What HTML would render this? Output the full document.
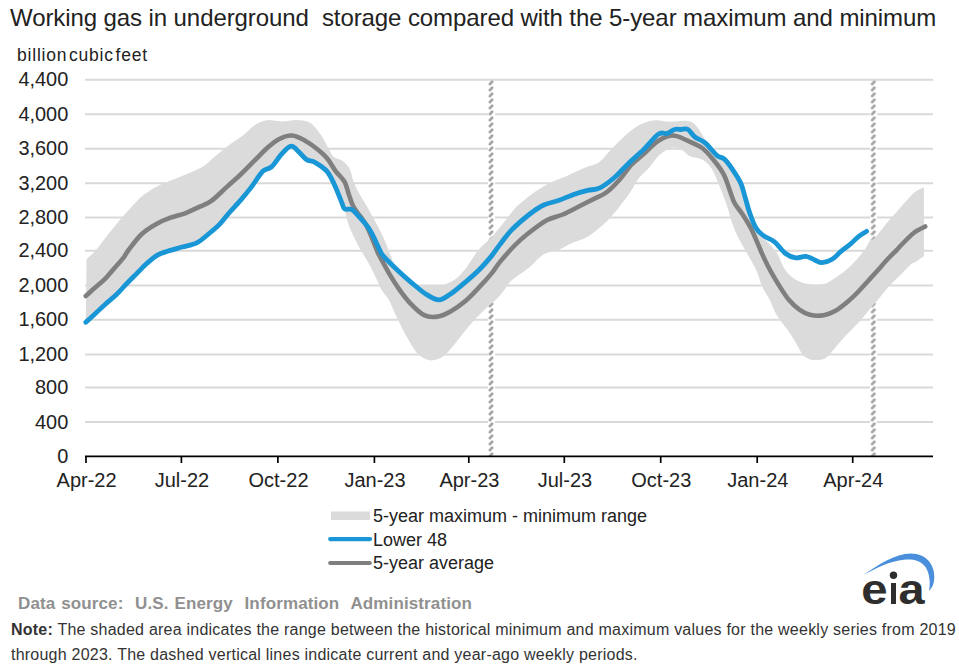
<!DOCTYPE html>
<html><head><meta charset="utf-8">
<style>
html,body{margin:0;padding:0;background:#fff;width:959px;height:668px;overflow:hidden}
svg{display:block;position:absolute;left:0;top:0}
text{font-family:"Liberation Sans",sans-serif}
</style></head><body>
<svg width="959" height="668" viewBox="0 0 959 668">
<defs>
<pattern id="dash" x="0" y="0" width="8" height="6" patternUnits="userSpaceOnUse">
<line x1="2.9" y1="4.1" x2="5.1" y2="1.7" stroke="#a6a6a6" stroke-width="2.8" stroke-linecap="round"/>
</pattern>
</defs>
<text x="10" y="26.3" font-size="24" fill="#222" letter-spacing="-0.09" xml:space="preserve">Working gas in underground  storage compared with the 5-year maximum and minimum</text>
<text y="61" font-size="17.5" fill="#222" letter-spacing="0.8"><tspan x="17">billion</tspan><tspan x="69">cubic</tspan><tspan x="115.5">feet</tspan></text>
<g stroke="#d9d9d9" stroke-width="2">
<line x1="85" y1="422" x2="933" y2="422"/>
<line x1="85" y1="387.4" x2="933" y2="387.4"/>
<line x1="85" y1="354.55" x2="933" y2="354.55"/>
<line x1="85" y1="319.7" x2="933" y2="319.7"/>
<line x1="85" y1="285.45" x2="933" y2="285.45"/>
<line x1="85" y1="250.8" x2="933" y2="250.8"/>
<line x1="85" y1="217.6" x2="933" y2="217.6"/>
<line x1="85" y1="183.3" x2="933" y2="183.3"/>
<line x1="85" y1="148.8" x2="933" y2="148.8"/>
<line x1="85" y1="114.2" x2="933" y2="114.2"/>
<line x1="85" y1="79.7" x2="933" y2="79.7"/>
</g>
<rect x="488" y="81" width="7" height="375" fill="#fff"/><rect x="870" y="81" width="7" height="375" fill="#fff"/>
<g transform="translate(487,80)"><rect x="0" y="0" width="8" height="376" fill="url(#dash)"/></g>
<g transform="translate(869.3,80)"><rect x="0" y="0" width="8" height="376" fill="url(#dash)"/></g>
<path d="M86.6,259.0 C88.2,257.5 92.3,254.2 96.1,249.9 C99.9,245.6 104.6,238.7 109.2,233.0 C113.8,227.3 118.9,221.1 123.8,215.5 C128.7,209.9 134.3,203.4 138.4,199.4 C142.5,195.4 144.7,194.0 148.6,191.4 C152.5,188.8 157.4,186.2 161.8,184.1 C166.2,182.0 170.3,180.8 174.9,179.0 C179.5,177.2 184.6,175.3 189.5,173.1 C194.4,170.9 199.9,168.5 204.1,165.8 C208.3,163.1 210.4,160.2 214.6,156.7 C218.8,153.2 224.3,148.7 229.2,145.0 C234.1,141.3 239.4,138.2 243.8,134.8 C248.2,131.4 251.6,127.0 255.5,124.6 C259.4,122.2 262.8,120.7 267.2,120.2 C271.6,119.7 276.9,121.5 281.8,121.4 C286.7,121.4 292.0,119.9 296.4,119.9 C300.8,120.0 304.9,120.4 308.0,121.7 C311.1,123.0 312.9,124.8 315.3,127.5 C317.7,130.2 320.2,133.8 322.6,137.7 C325.0,141.6 328.0,147.7 329.9,150.9 C331.8,154.1 332.0,155.4 334.0,157.0 C336.0,158.6 339.4,158.6 342.0,160.5 C344.6,162.4 347.7,165.3 349.6,168.7 C351.5,172.1 351.8,176.8 353.4,181.0 C355.0,185.2 356.8,189.1 359.2,193.6 C361.6,198.1 365.1,203.1 368.0,208.2 C370.9,213.3 374.0,219.1 376.7,224.2 C379.4,229.3 382.1,234.5 384.0,238.8 C385.9,243.1 387.2,247.0 388.4,249.9 C389.6,252.8 389.6,253.4 391.0,256.5 C392.4,259.6 393.1,264.1 396.5,268.2 C399.9,272.3 407.2,278.3 411.1,281.3 C415.0,284.3 416.4,285.3 420.0,286.0 C423.6,286.7 429.2,285.4 432.8,285.3 C436.4,285.2 438.1,286.3 441.8,285.3 C445.5,284.3 451.0,282.1 454.9,279.4 C458.8,276.7 461.2,274.1 465.1,269.2 C469.0,264.3 474.3,255.1 478.5,250.0 C482.7,244.9 486.5,242.5 490.2,238.5 C493.9,234.5 497.9,229.5 500.9,225.9 C503.9,222.3 505.7,220.0 508.1,217.0 C510.5,214.0 512.8,210.7 515.3,208.0 C517.8,205.3 520.6,203.1 523.4,200.8 C526.2,198.5 527.9,196.8 532.0,194.0 C536.1,191.2 542.6,186.7 548.2,183.8 C553.8,180.9 559.6,179.2 565.7,176.5 C571.8,173.8 579.1,170.1 584.7,167.7 C590.3,165.3 594.8,165.1 599.3,161.9 C603.8,158.7 607.0,153.5 612.0,148.5 C617.0,143.5 623.9,136.1 629.2,131.9 C634.5,127.7 639.4,125.0 643.8,123.1 C648.2,121.1 651.1,120.4 655.5,120.2 C659.9,120.0 664.8,121.6 670.1,121.7 C675.5,121.8 683.2,120.3 687.6,121.0 C692.0,121.7 693.5,123.0 696.4,126.0 C699.3,129.0 701.7,134.5 705.1,139.2 C708.5,143.9 713.6,151.2 716.8,154.3 C720.0,157.4 721.5,155.7 724.1,157.9 C726.7,160.2 729.3,163.7 732.1,167.8 C734.9,171.9 738.7,177.5 740.9,182.4 C743.1,187.3 743.8,192.1 745.3,197.0 C746.8,201.9 747.9,206.7 749.6,211.6 C751.3,216.5 753.4,222.3 755.5,226.2 C757.6,230.1 760.2,232.5 762.0,235.0 C763.8,237.5 764.0,238.2 766.5,241.1 C769.0,244.0 773.5,247.8 776.7,252.7 C779.9,257.6 782.3,265.8 785.5,270.3 C788.7,274.8 791.8,277.4 795.7,279.7 C799.6,282.0 804.2,283.4 808.8,284.1 C813.4,284.8 819.5,284.8 823.4,284.1 C827.3,283.4 828.8,281.8 832.2,279.7 C835.6,277.6 840.0,274.8 843.9,271.7 C847.8,268.6 852.1,264.4 855.5,260.8 C858.9,257.2 861.9,253.6 864.3,250.3 C866.7,247.0 868.2,243.2 870.0,241.1 C871.8,238.9 872.2,240.5 875.1,237.4 C878.0,234.3 883.5,226.9 887.3,222.4 C891.1,217.9 894.5,214.3 898.1,210.2 C901.7,206.1 906.0,201.2 909.0,198.0 C912.0,194.8 913.3,193.1 915.8,191.3 C918.3,189.5 922.5,187.9 923.9,187.2 L923.9,256.3 C922.5,257.2 918.1,260.4 915.8,261.8 C913.5,263.2 913.0,262.6 910.3,264.9 C907.6,267.2 903.2,272.0 899.5,275.8 C895.8,279.6 891.5,283.7 888.0,287.6 C884.5,291.5 881.7,295.4 878.6,299.0 C875.5,302.6 872.8,305.6 869.5,309.4 C866.2,313.2 863.1,317.4 859.0,322.0 C854.9,326.6 848.8,332.3 844.7,336.7 C840.6,341.1 837.7,344.9 834.5,348.4 C831.3,351.9 828.9,355.9 825.7,357.9 C822.5,359.8 818.5,360.0 815.5,360.1 C812.5,360.2 810.2,359.5 808.0,358.5 C805.8,357.5 804.2,356.6 802.3,354.2 C800.4,351.8 798.7,347.6 796.5,344.0 C794.3,340.4 792.5,337.0 789.2,332.3 C786.0,327.6 780.2,320.9 777.0,315.6 C773.8,310.3 772.5,305.4 770.0,300.5 C767.5,295.6 764.4,291.3 762.1,286.3 C759.8,281.3 759.0,276.1 756.3,270.3 C753.6,264.5 749.1,257.1 746.0,251.5 C742.9,245.9 740.1,241.6 737.8,236.8 C735.5,232.0 734.0,228.3 732.1,222.8 C730.2,217.3 728.5,210.1 726.3,203.8 C724.1,197.5 721.4,190.6 719.0,184.8 C716.6,179.0 714.5,173.0 711.7,168.8 C708.9,164.6 705.7,161.7 702.2,159.6 C698.7,157.5 693.2,157.6 690.5,156.5 C687.8,155.4 687.6,154.3 685.7,153.0 C683.9,151.7 681.5,149.4 679.4,148.5 C677.3,147.6 675.4,147.3 673.1,147.6 C670.9,147.9 668.6,148.7 665.9,150.3 C663.2,152.0 660.0,154.4 657.0,157.5 C654.0,160.6 651.0,165.7 648.0,169.1 C645.0,172.5 642.0,174.2 639.0,178.1 C636.0,182.0 633.8,187.0 630.0,192.5 C626.2,198.0 620.3,205.8 616.0,211.0 C611.7,216.2 608.7,219.7 604.0,224.0 C599.3,228.3 592.8,233.6 587.6,236.7 C582.4,239.8 577.9,240.4 573.0,242.6 C568.1,244.8 563.3,248.0 558.4,249.9 C553.5,251.8 548.7,251.3 543.8,254.2 C538.9,257.1 534.5,263.1 529.2,267.4 C523.9,271.7 516.1,276.2 512.0,280.0 C507.9,283.8 506.8,286.9 504.3,290.0 C501.8,293.1 500.2,295.6 497.0,298.8 C493.8,302.0 488.9,305.6 485.3,309.0 C481.7,312.4 478.5,315.6 475.1,319.2 C471.7,322.8 468.3,326.8 464.9,330.9 C461.5,335.0 457.9,340.1 454.7,344.0 C451.5,347.9 448.8,351.6 445.9,354.2 C443.0,356.8 440.1,358.3 437.2,359.3 C434.3,360.3 431.6,361.0 428.4,360.1 C425.2,359.2 421.1,356.9 418.2,354.2 C415.3,351.5 413.3,347.9 410.9,344.0 C408.5,340.1 406.0,335.5 403.6,330.9 C401.2,326.3 398.7,321.4 396.3,316.3 C393.9,311.2 391.4,304.6 389.0,300.2 C386.6,295.8 383.6,293.2 381.7,290.0 C379.8,286.8 379.6,285.3 377.5,280.9 C375.4,276.5 371.7,268.7 368.8,263.4 C365.9,258.1 362.6,253.4 360.3,249.3 C358.0,245.2 356.7,242.7 354.8,238.8 C352.9,234.9 350.4,229.6 349.0,225.7 C347.6,221.8 346.6,217.2 346.1,215.5 L344.6,208.9 C344.1,207.8 343.4,206.4 341.7,202.3 C340.0,198.2 336.8,189.7 334.3,184.5 C331.9,179.3 330.2,175.0 327.0,171.3 C323.8,167.7 318.7,164.6 315.3,162.6 C311.9,160.6 309.3,161.3 306.6,159.6 C303.9,157.9 301.9,154.5 299.3,152.3 C296.7,150.1 294.1,145.9 291.2,146.2 C288.3,146.4 285.1,150.4 281.8,153.8 C278.5,157.2 274.7,164.0 271.5,166.9 C268.3,169.8 266.2,167.9 262.8,171.3 C259.4,174.7 254.8,182.6 251.1,187.4 C247.4,192.2 244.6,195.6 240.9,199.9 C237.2,204.2 232.5,209.0 229.0,213.0 C225.5,217.0 223.4,220.3 220.0,223.8 C216.6,227.3 212.4,230.8 208.5,234.0 C204.6,237.2 201.2,240.6 196.8,242.8 C192.4,245.0 187.1,245.6 182.2,247.0 C177.3,248.4 171.7,249.8 167.6,251.2 C163.5,252.5 160.8,253.1 157.4,255.1 C154.0,257.1 150.6,260.1 147.2,263.1 C143.8,266.2 140.3,270.0 136.9,273.4 C133.5,276.8 130.1,280.1 126.7,283.6 C123.3,287.1 120.2,291.0 116.5,294.5 C112.8,298.0 108.5,301.4 104.8,304.7 C101.1,308.0 97.8,311.3 94.6,314.2 C91.4,317.1 87.3,320.9 85.8,322.3 Z" fill="#dbdbdb"/>
<path d="M85.8,296.0 C87.3,294.7 91.4,290.8 94.6,288.0 C97.8,285.2 101.4,282.6 104.8,279.2 C108.2,275.8 111.8,271.1 115.0,267.5 C118.2,263.9 121.6,260.1 123.8,257.3 C126.0,254.5 125.3,254.3 128.2,250.5 C131.1,246.7 136.7,238.9 141.3,234.5 C145.9,230.1 151.0,227.0 155.9,224.2 C160.8,221.4 165.6,219.5 170.5,217.7 C175.4,215.9 180.2,215.1 185.1,213.3 C190.0,211.5 195.3,208.8 199.7,206.7 C204.1,204.6 207.0,204.1 211.4,200.9 C215.8,197.7 221.4,191.9 226.3,187.4 C231.2,182.9 236.0,178.8 240.9,174.2 C245.8,169.6 251.1,164.0 255.5,159.6 C259.9,155.2 263.3,151.4 267.2,148.0 C271.1,144.6 274.7,141.3 278.8,139.2 C282.9,137.1 287.6,135.2 292.0,135.5 C296.4,135.8 301.0,138.5 305.1,140.7 C309.2,142.9 313.2,145.8 316.8,148.7 C320.4,151.6 323.8,154.4 327.0,158.2 C330.2,162.0 332.9,167.4 335.8,171.3 C338.7,175.2 342.4,178.0 344.6,181.9 C346.8,185.8 347.5,190.9 349.0,195.0 C350.5,199.1 351.4,203.0 353.4,206.7 C355.3,210.3 358.5,213.7 360.7,216.9 C362.9,220.1 364.6,222.0 366.5,225.7 C368.4,229.3 370.6,234.8 372.3,238.8 C374.0,242.8 375.6,247.2 376.7,249.9 C377.8,252.6 376.9,251.1 379.0,255.0 C381.1,258.9 385.8,267.8 389.2,273.6 C392.6,279.4 395.8,284.5 399.4,289.6 C403.0,294.7 407.0,299.9 411.1,304.2 C415.2,308.5 419.8,313.1 424.2,315.2 C428.6,317.3 433.0,317.2 437.4,316.6 C441.8,316.0 445.9,314.1 450.5,311.5 C455.1,308.9 460.2,305.4 465.1,301.3 C470.0,297.2 475.3,291.3 479.7,286.7 C484.1,282.1 488.0,277.7 491.4,273.6 C494.8,269.5 496.1,266.6 500.0,261.9 C503.9,257.2 510.0,250.2 514.6,245.5 C519.2,240.8 522.4,238.0 527.7,233.8 C533.1,229.6 540.9,223.5 546.7,220.3 C552.6,217.1 557.2,216.9 562.8,214.5 C568.4,212.1 574.9,208.4 580.3,205.7 C585.6,203.0 590.5,200.6 594.9,198.4 C599.3,196.2 602.5,195.5 606.6,192.3 C610.7,189.2 615.6,184.1 619.7,179.5 C623.8,174.9 627.4,169.1 631.4,164.8 C635.4,160.5 639.3,157.8 643.8,153.8 C648.3,149.8 653.5,143.8 658.4,140.7 C663.3,137.6 668.1,135.5 673.0,135.5 C677.9,135.5 682.7,138.6 687.6,140.7 C692.5,142.8 697.8,144.7 702.2,148.0 C706.6,151.3 710.4,156.1 714.0,160.5 C717.6,164.9 721.0,169.3 723.7,174.4 C726.4,179.5 728.2,186.2 730.0,191.0 C731.8,195.8 732.5,199.2 734.5,203.0 C736.5,206.8 739.5,209.7 742.3,214.0 C745.1,218.3 748.6,223.8 751.1,228.6 C753.6,233.4 755.4,238.2 757.5,243.0 C759.6,247.8 761.4,252.3 763.6,257.1 C765.8,261.9 768.2,266.8 770.9,271.7 C773.6,276.6 776.6,281.6 779.6,286.3 C782.6,291.0 785.6,296.0 788.8,299.8 C792.0,303.6 795.5,306.8 799.0,309.3 C802.5,311.8 805.9,313.8 810.0,314.8 C814.1,315.8 819.5,315.9 823.8,315.2 C828.0,314.5 831.5,313.1 835.5,310.8 C839.5,308.5 844.2,304.6 847.9,301.5 C851.6,298.4 854.0,296.1 857.5,292.5 C861.0,288.9 865.6,283.7 869.0,280.0 C872.4,276.3 874.8,273.7 877.8,270.3 C880.8,266.9 884.1,262.9 887.3,259.5 C890.5,256.1 894.5,252.3 896.8,250.0 C899.0,247.7 898.3,248.1 900.8,245.5 C903.3,242.9 908.8,237.2 911.7,234.6 C914.7,232.0 916.2,231.2 918.5,229.9 C920.8,228.6 924.1,227.1 925.2,226.5" fill="none" stroke="#7f7f7f" stroke-width="4.6" stroke-linejoin="round" stroke-linecap="round"/>
<path d="M85.8,322.3 C87.3,320.9 91.4,317.1 94.6,314.2 C97.8,311.3 101.1,308.0 104.8,304.7 C108.5,301.4 112.8,298.0 116.5,294.5 C120.2,291.0 123.3,287.1 126.7,283.6 C130.1,280.1 133.5,276.8 136.9,273.4 C140.3,270.0 143.8,266.2 147.2,263.1 C150.6,260.1 154.0,257.1 157.4,255.1 C160.8,253.1 163.5,252.5 167.6,251.2 C171.7,249.8 177.3,248.4 182.2,247.0 C187.1,245.6 192.4,245.0 196.8,242.8 C201.2,240.6 204.6,237.2 208.5,234.0 C212.4,230.8 216.6,227.3 220.0,223.8 C223.4,220.3 225.5,217.0 229.0,213.0 C232.5,209.0 237.2,204.2 240.9,199.9 C244.6,195.6 247.4,192.2 251.1,187.4 C254.8,182.6 259.4,174.7 262.8,171.3 C266.2,167.9 268.3,169.8 271.5,166.9 C274.7,164.0 278.5,157.2 281.8,153.8 C285.1,150.4 288.3,146.4 291.2,146.2 C294.1,145.9 296.7,150.1 299.3,152.3 C301.9,154.5 303.9,157.9 306.6,159.6 C309.3,161.3 311.9,160.6 315.3,162.6 C318.7,164.6 323.8,167.7 327.0,171.3 C330.2,175.0 331.9,179.3 334.3,184.5 C336.8,189.7 340.0,198.2 341.7,202.3 C343.4,206.4 342.9,207.7 344.6,208.9 C346.3,210.1 349.5,208.3 351.9,209.6 C354.3,210.9 356.5,214.0 359.2,216.9 C361.9,219.8 365.6,223.8 368.0,227.2 C370.4,230.6 371.9,233.6 373.8,237.4 C375.7,241.2 378.0,246.8 379.6,249.9 C381.2,253.0 380.6,252.9 383.4,256.1 C386.2,259.3 391.9,264.8 396.5,269.2 C401.1,273.6 406.2,278.2 411.1,282.3 C416.0,286.4 421.1,291.1 425.7,294.0 C430.3,296.9 434.7,299.9 438.8,299.9 C442.9,299.9 446.1,296.9 450.5,294.0 C454.9,291.1 460.2,286.4 465.1,282.3 C470.0,278.2 475.3,273.6 479.7,269.2 C484.1,264.8 488.0,260.2 491.4,256.1 C494.8,252.0 496.6,248.8 500.0,244.4 C503.4,240.0 506.8,234.9 511.7,229.9 C516.6,224.9 523.9,218.7 529.2,214.5 C534.6,210.3 538.9,207.3 543.8,205.0 C548.7,202.7 553.5,202.3 558.4,200.6 C563.3,198.9 568.1,196.4 573.0,194.7 C577.9,193.0 583.2,191.5 587.6,190.4 C592.0,189.3 594.9,190.3 599.3,188.2 C603.7,186.1 609.0,182.1 613.9,178.0 C618.8,173.9 623.5,168.2 628.5,163.4 C633.5,158.6 638.8,154.3 643.8,149.4 C648.8,144.5 654.5,136.8 658.4,134.1 C662.3,131.4 664.5,134.2 667.2,133.4 C669.9,132.6 672.2,130.2 674.5,129.5 C676.8,128.8 678.8,129.5 681.0,129.5 C683.2,129.5 685.7,128.2 688.0,129.5 C690.3,130.8 692.0,134.8 694.9,137.0 C697.8,139.2 701.5,139.8 705.1,142.8 C708.8,145.9 713.6,152.6 716.8,155.3 C720.0,158.0 721.5,156.7 724.1,158.9 C726.7,161.2 729.3,164.7 732.1,168.8 C734.9,172.9 738.7,178.5 740.9,183.4 C743.1,188.3 743.8,193.1 745.3,198.0 C746.8,202.9 747.9,207.7 749.6,212.6 C751.3,217.5 753.3,223.4 755.5,227.2 C757.7,231.0 759.6,232.8 762.8,235.2 C766.0,237.6 770.7,238.8 774.5,241.8 C778.3,244.9 782.0,250.8 785.5,253.5 C789.0,256.2 792.3,257.3 795.7,257.8 C799.1,258.3 802.7,256.0 805.9,256.4 C809.1,256.8 812.0,258.9 814.7,260.0 C817.4,261.1 819.1,262.8 822.0,262.7 C824.9,262.6 829.0,261.2 832.2,259.3 C835.4,257.4 838.1,253.7 841.0,251.3 C843.9,248.9 846.8,247.1 849.7,244.7 C852.6,242.3 855.7,238.9 858.5,236.7 C861.3,234.5 865.2,232.3 866.5,231.4" fill="none" stroke="#1996d6" stroke-width="4.8" stroke-linejoin="round" stroke-linecap="round"/>
<line x1="85" y1="456.4" x2="933" y2="456.4" stroke="#000" stroke-width="1.8"/>
<g stroke="#000" stroke-width="1.7">
<line x1="86" y1="456" x2="86" y2="463"/>
<line x1="181.4" y1="456" x2="181.4" y2="463"/>
<line x1="277.9" y1="456" x2="277.9" y2="463"/>
<line x1="374.4" y1="456" x2="374.4" y2="463"/>
<line x1="468.8" y1="456" x2="468.8" y2="463"/>
<line x1="564.3" y1="456" x2="564.3" y2="463"/>
<line x1="660.7" y1="456" x2="660.7" y2="463"/>
<line x1="757.2" y1="456" x2="757.2" y2="463"/>
<line x1="852.7" y1="456" x2="852.7" y2="463"/>
</g>
<g font-size="21" fill="#222" text-anchor="end" transform="translate(68.3,0) scale(0.95,1)">
<text x="0" y="463.00">0</text>
<text x="0" y="428.60">400</text>
<text x="0" y="394.00">800</text>
<text x="0" y="361.15">1,200</text>
<text x="0" y="326.30">1,600</text>
<text x="0" y="292.05">2,000</text>
<text x="0" y="257.40">2,400</text>
<text x="0" y="224.20">2,800</text>
<text x="0" y="189.90">3,200</text>
<text x="0" y="155.40">3,600</text>
<text x="0" y="120.80">4,000</text>
<text x="0" y="86.30">4,400</text>
</g>
<g font-size="20" fill="#222" text-anchor="middle">
<text x="86.6" y="487.2">Apr-22</text>
<text x="182.0" y="487.2">Jul-22</text>
<text x="278.5" y="487.2">Oct-22</text>
<text x="375.0" y="487.2">Jan-23</text>
<text x="469.40000000000003" y="487.2">Apr-23</text>
<text x="564.9" y="487.2">Jul-23</text>
<text x="661.3000000000001" y="487.2">Oct-23</text>
<text x="757.8000000000001" y="487.2">Jan-24</text>
<text x="853.3000000000001" y="487.2">Apr-24</text>
</g>
<rect x="331" y="511.5" width="39" height="8.5" fill="#dbdbdb"/>
<line x1="330.2" y1="539.1" x2="370" y2="539.1" stroke="#1996d6" stroke-width="4.2" stroke-linecap="round"/>
<line x1="330.2" y1="563" x2="369.8" y2="563" stroke="#7f7f7f" stroke-width="4.2" stroke-linecap="round"/>
<g font-size="18" fill="#222">
<text x="373" y="522">5-year maximum - minimum range</text>
<text x="373" y="545.5">Lower 48</text>
<text x="373" y="568.5">5-year average</text>
</g>
<text x="18" y="609" font-size="17" font-weight="bold" fill="#909090" letter-spacing="0.12" word-spacing="1" xml:space="preserve">Data source:  U.S. Energy  Information  Administration</text>
<text x="11" y="635" font-size="16" fill="#333" letter-spacing="0.23"><tspan font-weight="bold">Note:</tspan> The shaded area indicates the range between the historical minimum and maximum values for the weekly series from 2019</text>
<text x="11" y="660" font-size="16" fill="#333" letter-spacing="0.23">through 2023. The dashed vertical lines indicate current and year-ago weekly periods.</text>
<g fill="#2e2e2e">
<text x="0" y="604" font-size="43" font-weight="bold" transform="translate(861.2,0) scale(1.1,1)">e</text>
<rect x="891" y="583" width="5" height="21"/>
<circle cx="893.5" cy="575.3" r="3.7"/>
<text x="0" y="604" font-size="43" font-weight="bold" transform="translate(898.6,0) scale(1.09,1)">a</text>
<path d="M863.3,575 C878,565 895,554 911,553.6 C926,553.5 935,565 934.3,578 C934,584 932,588 929,591 C930.5,584 930,574 925.5,567 C920,560 912,559 904,559.7 C890,561 876,568 863.3,575 Z" fill="#4a8fdc"/>
</g>
</svg>
</body></html>
